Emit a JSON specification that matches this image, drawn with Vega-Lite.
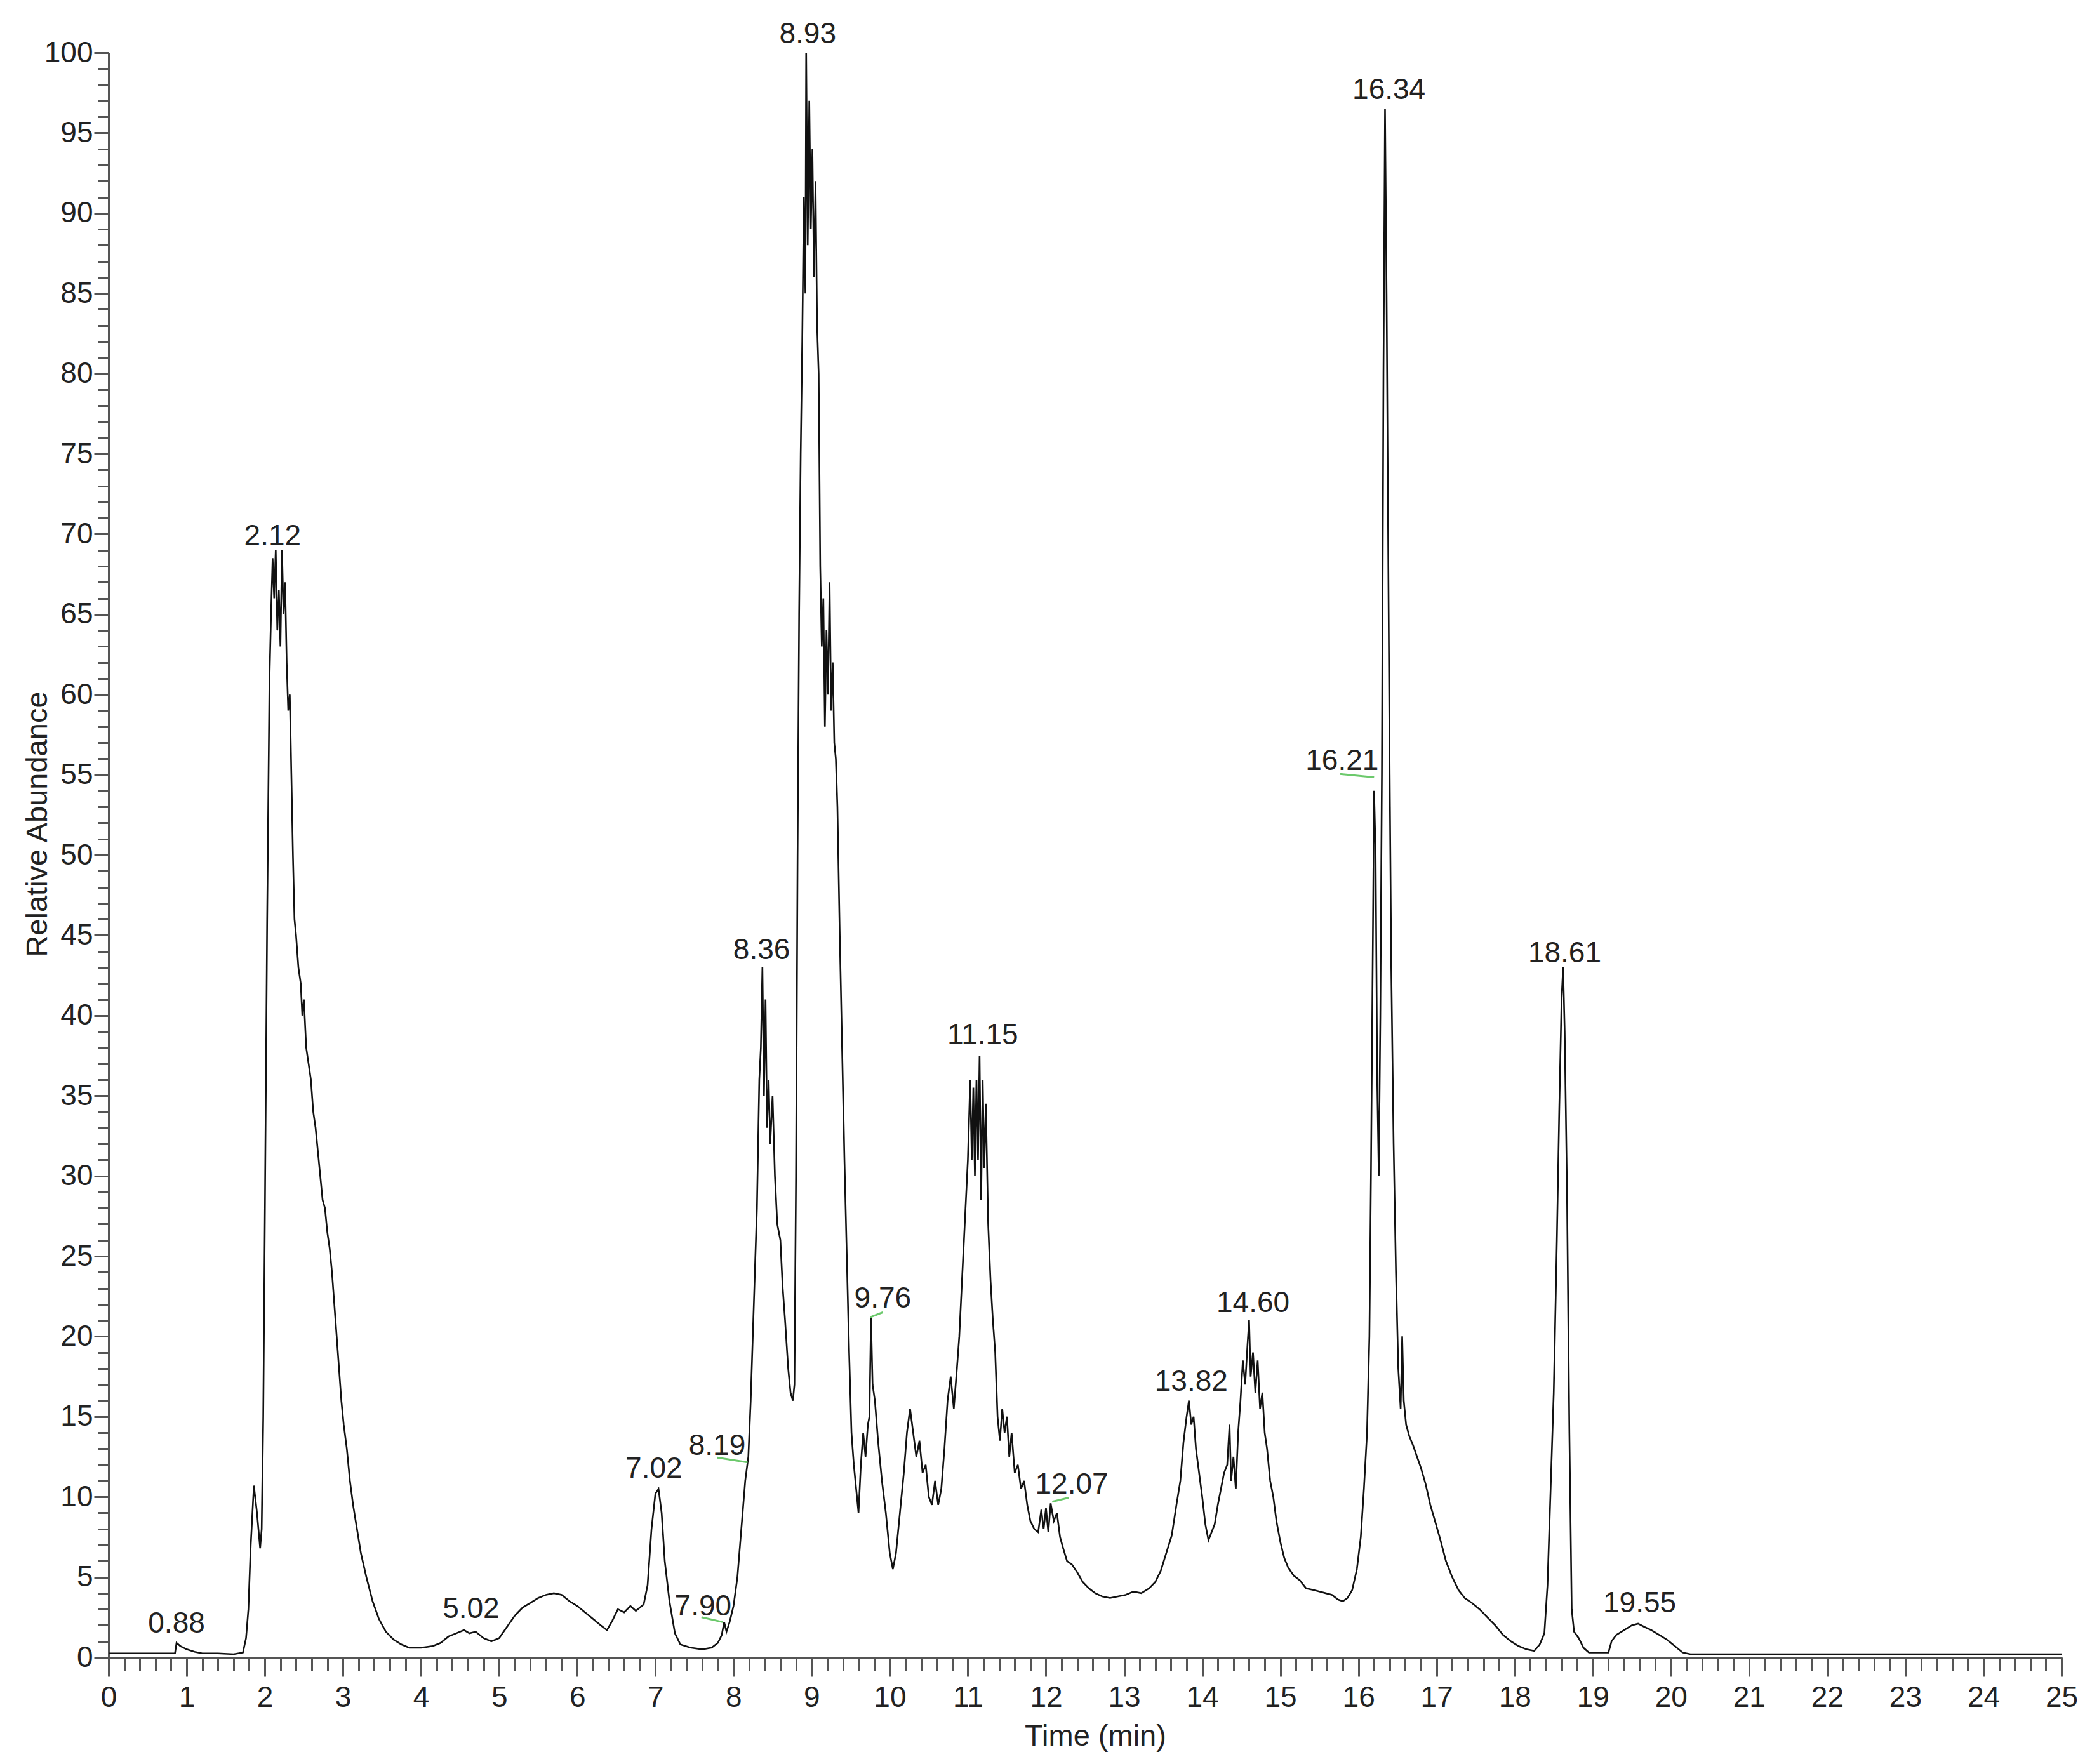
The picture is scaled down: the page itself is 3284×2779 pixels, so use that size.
{
  "$schema": "https://vega.github.io/schema/vega-lite/v6.json",
  "width": 3076,
  "height": 2528,
  "autosize": {"type": "none"},
  "padding": {"left": 171, "top": 83, "right": 37, "bottom": 168},
  "background": "white",
  "config": {
    "view": {"stroke": null},
    "font": "Liberation Sans",
    "axis": {
      "labelFont": "Liberation Sans",
      "titleFont": "Liberation Sans",
      "labelColor": "#222222",
      "titleColor": "#222222",
      "labelFontSize": 46,
      "titleFontSize": 47,
      "titleFontWeight": "normal",
      "domainColor": "#555555",
      "tickColor": "#555555",
      "domainWidth": 3,
      "tickWidth": 3,
      "grid": false,
      "labelOverlap": false,
      "labelFlush": false
    }
  },
  "datasets": {
    "trace": [
      {"t":0,"v":0.25},{"t":0.5,"v":0.25},{"t":0.85,"v":0.25},{"t":0.87,"v":0.9},{"t":0.92,"v":0.7},{"t":1.0,"v":0.5},{"t":1.1,"v":0.35},{"t":1.2,"v":0.25},{"t":1.4,"v":0.25},{"t":1.6,"v":0.2},{"t":1.72,"v":0.3},
      {"t":1.76,"v":1.2},{"t":1.79,"v":3},{"t":1.82,"v":7},{"t":1.86,"v":10.7},{"t":1.9,"v":9},{"t":1.94,"v":6.8},{"t":1.96,"v":8},{"t":1.98,"v":15},{"t":2.0,"v":27},{"t":2.03,"v":46},{"t":2.06,"v":61},{"t":2.08,"v":65},{"t":2.1,"v":68.5},{"t":2.12,"v":66},{"t":2.14,"v":69},{"t":2.16,"v":64},{"t":2.18,"v":66.5},{"t":2.2,"v":63},{"t":2.22,"v":69},{"t":2.24,"v":65},{"t":2.26,"v":67},{"t":2.28,"v":62},{"t":2.3,"v":59},{"t":2.32,"v":60},{"t":2.34,"v":55},{"t":2.36,"v":50},{"t":2.38,"v":46},{"t":2.4,"v":45},{"t":2.43,"v":43},{"t":2.46,"v":42},{"t":2.48,"v":40},{"t":2.5,"v":41},{"t":2.53,"v":38},{"t":2.56,"v":37},{"t":2.59,"v":36},{"t":2.62,"v":34},{"t":2.65,"v":33},{"t":2.68,"v":31.5},{"t":2.71,"v":30},{"t":2.74,"v":28.5},{"t":2.77,"v":28},{"t":2.8,"v":26.5},{"t":2.83,"v":25.5},{"t":2.86,"v":24},{"t":2.89,"v":22},{"t":2.92,"v":20},{"t":2.95,"v":18},{"t":2.98,"v":16},{"t":3.01,"v":14.5},{"t":3.05,"v":13},{"t":3.09,"v":11},{"t":3.13,"v":9.5},{"t":3.18,"v":8},{"t":3.23,"v":6.5},{"t":3.3,"v":5},{"t":3.38,"v":3.5},{"t":3.46,"v":2.4},{"t":3.55,"v":1.6},{"t":3.65,"v":1.1},{"t":3.75,"v":0.8},{"t":3.85,"v":0.6},{"t":4.0,"v":0.6},{"t":4.15,"v":0.7},{"t":4.25,"v":0.9},{"t":4.35,"v":1.3},{"t":4.45,"v":1.5},{"t":4.55,"v":1.7},{"t":4.62,"v":1.5},{"t":4.7,"v":1.6},{"t":4.8,"v":1.2},{"t":4.9,"v":1.0},{"t":5.0,"v":1.2},{"t":5.1,"v":1.9},{"t":5.2,"v":2.6},{"t":5.3,"v":3.1},{"t":5.4,"v":3.4},{"t":5.5,"v":3.7},{"t":5.6,"v":3.9},{"t":5.7,"v":4.0},{"t":5.8,"v":3.9},{"t":5.9,"v":3.5},{"t":6.0,"v":3.2},{"t":6.1,"v":2.8},{"t":6.2,"v":2.4},{"t":6.3,"v":2.0},{"t":6.38,"v":1.7},{"t":6.45,"v":2.3},{"t":6.52,"v":3.0},{"t":6.6,"v":2.8},{"t":6.68,"v":3.2},{"t":6.75,"v":2.9},{"t":6.85,"v":3.3},{"t":6.9,"v":4.5},{"t":6.95,"v":8},{"t":7.0,"v":10.2},{"t":7.04,"v":10.5},{"t":7.08,"v":9},{"t":7.12,"v":6},{"t":7.18,"v":3.5},{"t":7.25,"v":1.5},{"t":7.32,"v":0.8},{"t":7.45,"v":0.6},{"t":7.6,"v":0.5},{"t":7.72,"v":0.6},{"t":7.8,"v":0.9},{"t":7.85,"v":1.4},{"t":7.88,"v":2.2},{"t":7.91,"v":1.6},{"t":7.95,"v":2.2},{"t":8.0,"v":3.2},{"t":8.05,"v":5},{"t":8.1,"v":8},{"t":8.15,"v":11},{"t":8.19,"v":12.5},{"t":8.22,"v":16},{"t":8.26,"v":22},{"t":8.3,"v":28},{"t":8.33,"v":36},{"t":8.35,"v":38},{"t":8.37,"v":43},{"t":8.39,"v":35},{"t":8.41,"v":41},{"t":8.43,"v":33},{"t":8.45,"v":36},{"t":8.47,"v":32},{"t":8.5,"v":35},{"t":8.53,"v":30},{"t":8.56,"v":27},{"t":8.6,"v":26},{"t":8.63,"v":23},{"t":8.66,"v":21},{"t":8.7,"v":18},{"t":8.73,"v":16.5},{"t":8.76,"v":16},{"t":8.78,"v":17},{"t":8.8,"v":30},{"t":8.82,"v":50},{"t":8.84,"v":65},{"t":8.86,"v":75},{"t":8.88,"v":82},{"t":8.9,"v":91},{"t":8.92,"v":85},{"t":8.93,"v":100},{"t":8.95,"v":88},{"t":8.97,"v":97},{"t":8.99,"v":89},{"t":9.01,"v":94},{"t":9.03,"v":86},{"t":9.05,"v":92},{"t":9.07,"v":83},{"t":9.09,"v":80},{"t":9.11,"v":68},{"t":9.13,"v":63},{"t":9.15,"v":66},{"t":9.17,"v":58},{"t":9.19,"v":64},{"t":9.21,"v":60},{"t":9.23,"v":67},{"t":9.25,"v":59},{"t":9.27,"v":62},{"t":9.29,"v":57},{"t":9.31,"v":56},{"t":9.33,"v":53},{"t":9.36,"v":45},{"t":9.39,"v":38},{"t":9.42,"v":31},{"t":9.45,"v":25},{"t":9.48,"v":19},{"t":9.51,"v":14},{"t":9.54,"v":12},{"t":9.57,"v":10.5},{"t":9.6,"v":9},{"t":9.63,"v":12},{"t":9.66,"v":14},{"t":9.69,"v":12.5},{"t":9.72,"v":14.5},{"t":9.74,"v":15},{"t":9.76,"v":21.2},{"t":9.78,"v":17},{"t":9.81,"v":16},{"t":9.85,"v":13.5},{"t":9.9,"v":11},{"t":9.95,"v":9},{"t":10.0,"v":6.5},{"t":10.04,"v":5.5},{"t":10.08,"v":6.5},{"t":10.13,"v":9},{"t":10.18,"v":11.5},{"t":10.22,"v":14},{"t":10.26,"v":15.5},{"t":10.3,"v":14},{"t":10.34,"v":12.5},{"t":10.38,"v":13.5},{"t":10.42,"v":11.5},{"t":10.46,"v":12},{"t":10.5,"v":10},{"t":10.54,"v":9.5},{"t":10.58,"v":11},{"t":10.62,"v":9.5},{"t":10.66,"v":10.5},{"t":10.7,"v":13},{"t":10.74,"v":16},{"t":10.78,"v":17.5},{"t":10.82,"v":15.5},{"t":10.86,"v":18},{"t":10.89,"v":20},{"t":10.93,"v":24},{"t":10.97,"v":28},{"t":11.0,"v":31},{"t":11.03,"v":36},{"t":11.05,"v":31},{"t":11.07,"v":35.5},{"t":11.09,"v":30},{"t":11.11,"v":36},{"t":11.13,"v":31},{"t":11.15,"v":37.5},{"t":11.17,"v":28.5},{"t":11.19,"v":36},{"t":11.21,"v":30.5},{"t":11.23,"v":34.5},{"t":11.26,"v":27},{"t":11.29,"v":23.5},{"t":11.32,"v":21},{"t":11.35,"v":19},{"t":11.38,"v":15},{"t":11.41,"v":13.5},{"t":11.44,"v":15.5},{"t":11.47,"v":14},{"t":11.5,"v":15},{"t":11.53,"v":12.5},{"t":11.56,"v":14},{"t":11.6,"v":11.5},{"t":11.64,"v":12},{"t":11.68,"v":10.5},{"t":11.72,"v":11},{"t":11.76,"v":9.5},{"t":11.8,"v":8.5},{"t":11.85,"v":8},{"t":11.9,"v":7.8},{"t":11.94,"v":9.2},{"t":11.97,"v":8},{"t":12.0,"v":9.3},{"t":12.03,"v":7.8},{"t":12.06,"v":9.6},{"t":12.1,"v":8.5},{"t":12.14,"v":9},{"t":12.18,"v":7.5},{"t":12.22,"v":6.8},{"t":12.27,"v":6},{"t":12.33,"v":5.8},{"t":12.4,"v":5.3},{"t":12.47,"v":4.7},{"t":12.55,"v":4.3},{"t":12.63,"v":4.0},{"t":12.72,"v":3.8},{"t":12.82,"v":3.7},{"t":12.92,"v":3.8},{"t":13.02,"v":3.9},{"t":13.12,"v":4.1},{"t":13.22,"v":4.0},{"t":13.32,"v":4.3},{"t":13.4,"v":4.7},{"t":13.47,"v":5.4},{"t":13.54,"v":6.5},{"t":13.61,"v":7.6},{"t":13.67,"v":9.5},{"t":13.72,"v":11},{"t":13.76,"v":13.4},{"t":13.8,"v":15},{"t":13.83,"v":16},{"t":13.86,"v":14.5},{"t":13.89,"v":15},{"t":13.92,"v":13},{"t":13.96,"v":11.5},{"t":14.0,"v":10},{"t":14.04,"v":8.3},{"t":14.08,"v":7.3},{"t":14.12,"v":7.8},{"t":14.16,"v":8.3},{"t":14.2,"v":9.5},{"t":14.24,"v":10.5},{"t":14.28,"v":11.5},{"t":14.32,"v":12},{"t":14.35,"v":14.5},{"t":14.37,"v":11},{"t":14.4,"v":12.5},{"t":14.43,"v":10.5},{"t":14.46,"v":14},{"t":14.49,"v":16},{"t":14.52,"v":18.5},{"t":14.55,"v":17},{"t":14.58,"v":19.5},{"t":14.6,"v":21},{"t":14.62,"v":17.5},{"t":14.65,"v":19},{"t":14.68,"v":16.5},{"t":14.71,"v":18.5},{"t":14.74,"v":15.5},{"t":14.77,"v":16.5},{"t":14.8,"v":14},{"t":14.83,"v":13},{"t":14.87,"v":11},{"t":14.91,"v":10},{"t":14.95,"v":8.5},{"t":15.0,"v":7.2},{"t":15.05,"v":6.2},{"t":15.1,"v":5.6},{"t":15.17,"v":5.1},{"t":15.25,"v":4.8},{"t":15.33,"v":4.3},{"t":15.42,"v":4.2},{"t":15.5,"v":4.1},{"t":15.58,"v":4.0},{"t":15.66,"v":3.9},{"t":15.74,"v":3.6},{"t":15.8,"v":3.5},{"t":15.86,"v":3.7},{"t":15.92,"v":4.2},{"t":15.98,"v":5.5},{"t":16.03,"v":7.5},{"t":16.07,"v":10.5},{"t":16.11,"v":14},{"t":16.14,"v":20},{"t":16.16,"v":30},{"t":16.18,"v":42},{"t":16.2,"v":54},{"t":16.22,"v":50},{"t":16.24,"v":36},{"t":16.26,"v":30},{"t":16.28,"v":40},{"t":16.3,"v":55},{"t":16.32,"v":80},{"t":16.34,"v":96.5},{"t":16.36,"v":85},{"t":16.38,"v":70},{"t":16.4,"v":55},{"t":16.42,"v":43},{"t":16.45,"v":32},{"t":16.48,"v":24},{"t":16.51,"v":18},{"t":16.54,"v":15.5},{"t":16.56,"v":20},{"t":16.58,"v":16},{"t":16.61,"v":14.5},{"t":16.65,"v":13.8},{"t":16.7,"v":13.2},{"t":16.75,"v":12.5},{"t":16.8,"v":11.8},{"t":16.86,"v":10.8},{"t":16.92,"v":9.5},{"t":16.98,"v":8.5},{"t":17.05,"v":7.3},{"t":17.12,"v":6},{"t":17.2,"v":5},{"t":17.28,"v":4.2},{"t":17.36,"v":3.7},{"t":17.45,"v":3.4},{"t":17.55,"v":3.0},{"t":17.65,"v":2.5},{"t":17.75,"v":2.0},{"t":17.85,"v":1.4},{"t":17.95,"v":1.0},{"t":18.05,"v":0.7},{"t":18.15,"v":0.5},{"t":18.25,"v":0.4},{"t":18.32,"v":0.8},{"t":18.38,"v":1.5},{"t":18.42,"v":4.5},{"t":18.46,"v":10.5},{"t":18.5,"v":16.5},{"t":18.54,"v":26},{"t":18.57,"v":34},{"t":18.6,"v":41},{"t":18.62,"v":43},{"t":18.64,"v":39},{"t":18.67,"v":29},{"t":18.7,"v":14},{"t":18.73,"v":3},{"t":18.76,"v":1.6},{"t":18.82,"v":1.2},{"t":18.88,"v":0.6},{"t":18.95,"v":0.3},{"t":19.1,"v":0.3},{"t":19.2,"v":0.3},{"t":19.24,"v":1.0},{"t":19.3,"v":1.4},{"t":19.4,"v":1.7},{"t":19.5,"v":2.0},{"t":19.58,"v":2.1},{"t":19.66,"v":1.9},{"t":19.75,"v":1.7},{"t":19.85,"v":1.4},{"t":19.95,"v":1.1},{"t":20.05,"v":0.7},{"t":20.15,"v":0.3},{"t":20.25,"v":0.2},{"t":21,"v":0.2},{"t":22,"v":0.2},{"t":23,"v":0.2},{"t":24,"v":0.2},{"t":25,"v":0.2}
    ],
    "labels": [
      {"t":0.87,"v":1.55,"label":"0.88"},
      {"t":2.1,"v":69.3,"label":"2.12"},
      {"t":4.64,"v":2.45,"label":"5.02"},
      {"t":6.98,"v":11.2,"label":"7.02"},
      {"t":7.61,"v":2.6,"label":"7.90"},
      {"t":7.79,"v":12.6,"label":"8.19"},
      {"t":8.36,"v":43.5,"label":"8.36"},
      {"t":8.95,"v":100.6,"label":"8.93"},
      {"t":9.91,"v":21.8,"label":"9.76"},
      {"t":11.19,"v":38.2,"label":"11.15"},
      {"t":12.33,"v":10.2,"label":"12.07"},
      {"t":13.86,"v":16.6,"label":"13.82"},
      {"t":14.65,"v":21.5,"label":"14.60"},
      {"t":15.79,"v":55.3,"label":"16.21"},
      {"t":16.39,"v":97.1,"label":"16.34"},
      {"t":18.64,"v":43.3,"label":"18.61"},
      {"t":19.6,"v":2.8,"label":"19.55"}
    ],
    "leaders": [
      {"t":7.59,"v":2.5,"t2":7.86,"v2":2.2},
      {"t":7.79,"v":12.45,"t2":8.18,"v2":12.15},
      {"t":9.75,"v":21.2,"t2":9.91,"v2":21.5},
      {"t":12.08,"v":9.7,"t2":12.29,"v2":9.95},
      {"t":15.76,"v":55.05,"t2":16.2,"v2":54.85}
    ]
  },
  "resolve": {"axis": {"x": "independent", "y": "independent"}},
  "layer": [
    {
      "data": {"name": "trace"},
      "mark": {"type": "line", "color": "#111111", "strokeWidth": 2.6, "interpolate": "linear"},
      "encoding": {
        "x": {
          "field": "t", "type": "quantitative",
          "scale": {"domain": [0, 25], "nice": false, "zero": false},
          "axis": {
            "orient": "bottom",
            "values": [0,1,2,3,4,5,6,7,8,9,10,11,12,13,14,15,16,17,18,19,20,21,22,23,24,25],
            "tickSize": 30,
            "labelPadding": 11,
            "format": "d",
            "title": "Time (min)",
            "titleX": 1554,
            "titleY": 124,
            "titleBaseline": "middle",
            "titleAlign": "center"
          }
        },
        "y": {
          "field": "v", "type": "quantitative",
          "scale": {"domain": [0, 100], "nice": false},
          "axis": {
            "orient": "left",
            "values": [0,5,10,15,20,25,30,35,40,45,50,55,60,65,70,75,80,85,90,95,100],
            "tickSize": 23,
            "labelPadding": 2,
            "title": "Relative Abundance",
            "titleX": -112,
            "titleY": 1215,
            "titleAngle": -90,
            "titleBaseline": "middle",
            "titleAlign": "center"
          }
        }
      }
    },
    {
      "data": {"name": "leaders"},
      "mark": {"type": "rule", "color": "#6cc96c", "strokeWidth": 3},
      "encoding": {
        "x": {"field": "t", "type": "quantitative", "axis": null},
        "y": {"field": "v", "type": "quantitative", "axis": null},
        "x2": {"field": "t2"},
        "y2": {"field": "v2"}
      }
    },
    {
      "data": {"name": "labels"},
      "mark": {"type": "text", "font": "Liberation Sans", "fontSize": 46, "color": "#222222", "align": "center", "baseline": "alphabetic"},
      "encoding": {
        "x": {
          "field": "t", "type": "quantitative",
          "axis": {
            "orient": "bottom",
            "values": [0,0.2,0.4,0.6,0.8,1,1.2,1.4,1.6,1.8,2,2.2,2.4,2.6,2.8,3,3.2,3.4,3.6,3.8,4,4.2,4.4,4.6,4.8,5,5.2,5.4,5.6,5.8,6,6.2,6.4,6.6,6.8,7,7.2,7.4,7.6,7.8,8,8.2,8.4,8.6,8.8,9,9.2,9.4,9.6,9.8,10,10.2,10.4,10.6,10.8,11,11.2,11.4,11.6,11.8,12,12.2,12.4,12.6,12.8,13,13.2,13.4,13.6,13.8,14,14.2,14.4,14.6,14.8,15,15.2,15.4,15.6,15.8,16,16.2,16.4,16.6,16.8,17,17.2,17.4,17.6,17.8,18,18.2,18.4,18.6,18.8,19,19.2,19.4,19.6,19.8,20,20.2,20.4,20.6,20.8,21,21.2,21.4,21.6,21.8,22,22.2,22.4,22.6,22.8,23,23.2,23.4,23.6,23.8,24,24.2,24.4,24.6,24.8,25],
            "tickSize": 21,
            "labels": false,
            "domain": false,
            "title": null
          }
        },
        "y": {
          "field": "v", "type": "quantitative",
          "axis": {
            "orient": "left",
            "values": [0,1,2,3,4,5,6,7,8,9,10,11,12,13,14,15,16,17,18,19,20,21,22,23,24,25,26,27,28,29,30,31,32,33,34,35,36,37,38,39,40,41,42,43,44,45,46,47,48,49,50,51,52,53,54,55,56,57,58,59,60,61,62,63,64,65,66,67,68,69,70,71,72,73,74,75,76,77,78,79,80,81,82,83,84,85,86,87,88,89,90,91,92,93,94,95,96,97,98,99,100],
            "tickSize": 17,
            "labels": false,
            "domain": false,
            "title": null
          }
        },
        "text": {"field": "label", "type": "nominal"}
      }
    }
  ]
}
